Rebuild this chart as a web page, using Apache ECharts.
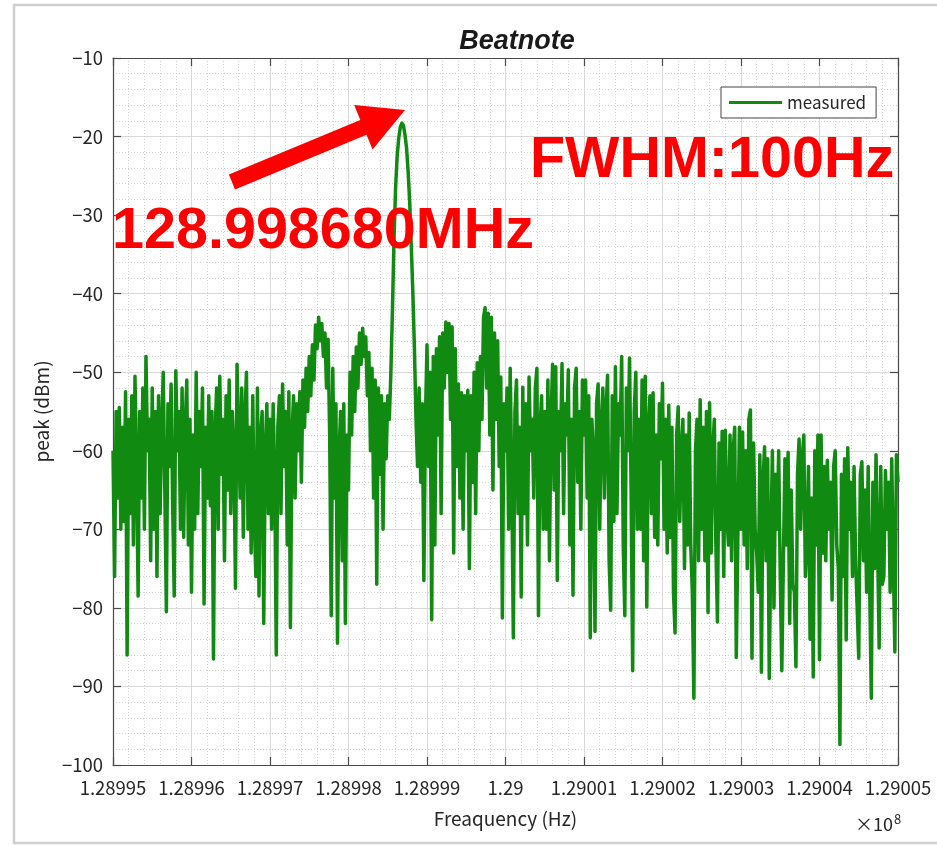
<!DOCTYPE html>
<html>
<head>
<meta charset="utf-8">
<title>Beatnote</title>
<script src="https://cdn.jsdelivr.net/npm/echarts@6/dist/echarts.min.js"></script>
<style>
  html, body { margin: 0; padding: 0; background: #fff; }
  #chart { width: 937px; height: 845px; }
</style>
</head>
<body>
<div id="chart"></div>
<script>
// frequency grid: 20 Hz steps from 128.995 MHz, one array per 1 kHz band
const freqStart = 128995000
const freqEnd = 129005000
const freqStep = 20
const seriesName = 'measured'

const band0 = [-60, -76, -55, -66, -54.5, -70, -57, -69, -52.5, -86, -56, -68, -53, -72, -50.5, -62, -78.5, -55, -66, -52,
  -70, -48, -60, -56, -74, -52, -70, -55, -76, -53, -68, -57, -50, -65, -80.5, -54, -62, -51.5, -67, -78.5,
  -49.8, -60, -55, -70, -52, -71, -57, -51, -72, -56]
const band1 = [-78, -58, -70, -50, -68, -55, -62, -52, -79.5, -57, -66, -53, -67, -55, -86.5, -58, -52, -70, -50.5, -63,
  -56, -74, -53, -65, -51, -68, -55, -60, -77.5, -49, -58, -66, -52, -71, -56, -50, -70, -57, -73, -53,
  -69, -76, -52, -78.5, -58, -55, -82, -60, -54, -68]
const band2 = [-56, -70, -54, -63, -86, -57, -53, -68, -51.5, -62, -55, -72, -52.5, -82.5, -58, -53, -66, -54, -60, -52.5,
  -64, -51, -57, -49.5, -55, -48, -53, -46.5, -51, -44, -47, -43, -46, -43.8, -48, -45, -52, -45.8, -58, -81,
  -49.5, -66, -54, -84.5, -60, -55, -74, -54, -82, -58]
const band3 = [-65, -50, -58, -48, -55, -46.8, -52, -45, -49, -44.4, -48, -45.5, -53, -47.5, -60, -49.5, -66, -51, -77, -52,
  -63, -53, -70, -54, -61, -53, -56, -50, -42, -33, -26.5, -22.5, -20.2, -18.8, -18.3, -18.6, -19.8, -21.5, -24.5, -28.5,
  -34, -40, -47, -56, -62, -52, -64, -54, -76.5, -56]
const band4 = [-46.5, -62, -50, -81.5, -48, -72, -47, -58, -45.5, -68, -45, -52, -43.6, -50, -43.8, -56, -44.2, -73, -47, -62,
  -51.5, -66, -52.6, -70, -53, -60, -52.3, -75, -53, -64, -50, -68, -48.8, -60, -48, -56, -43, -41.8, -52, -42.5,
  -58, -43, -65, -45, -56, -46, -62, -50.6, -81.3, -54]
const band5 = [-60, -52, -70, -49.5, -64, -83.8, -55, -51, -68, -57, -78.6, -51.9, -68, -54, -72, -50.6, -60, -56, -66, -52,
  -49.5, -81, -57, -53, -70, -55, -70, -51, -74, -56, -49, -65, -49.3, -76.5, -55, -60, -48.9, -68, -54, -58,
  -49.7, -72, -56, -78.4, -52, -49.5, -64, -55, -70, -51]
const band6 = [-58, -51, -66, -53, -83.8, -56, -60, -83, -54, -51.5, -70, -57, -52, -66, -55, -50.4, -74, -80.3, -53, -69,
  -49.3, -68, -54, -58, -48, -72, -81, -52, -60, -48.2, -65, -88, -55, -50, -70, -56, -70, -51, -74, -50.5,
  -79.9, -57, -53, -68, -52.6, -71, -58, -72, -54, -61]
const band7 = [-51.4, -70, -56, -73, -54.2, -71, -57, -78, -83.2, -58, -54.4, -69, -60, -56, -75, -58, -72, -55.2, -72, -78,
  -91.5, -60, -56, -74, -53.5, -70, -57, -74, -55, -80.6, -53.9, -73, -60, -56, -72, -81.8, -59, -70, -57.5, -76,
  -57.4, -68, -72, -58, -74, -60, -57, -86.3, -71, -57]
const band8 = [-70, -57.6, -72, -60, -75, -56, -54.8, -86.4, -59, -70, -73, -78, -60.5, -88.2, -64, -59.5, -74, -61, -89, -72,
  -60, -80, -63, -70, -60, -76, -88, -74, -61, -72, -60.2, -82, -65, -77, -78, -87.5, -63, -58.5, -70, -61,
  -58, -76, -71, -62, -84, -66, -88.8, -60, -72, -58]
const band9 = [-86.6, -58, -73, -62, -74, -61.2, -70, -64, -79, -62, -60, -72, -75, -97.4, -63, -76, -61, -84.1, -59.6, -70,
  -64, -76, -62, -74, -80, -86.4, -63, -61.4, -74, -65, -78, -62, -78, -91.5, -64, -75, -60.5, -72, -85.1, -62,
  -77, -76, -62.5, -70, -64, -78, -61, -74, -85.6, -60.5, -64]

const peakDbm = [].concat(band0, band1, band2, band3, band4, band5, band6, band7, band8, band9)

const yMin = -100
const yMax = -10
const yStep = 10
const xTickStep = 1000

const font = '"Noto Sans CJK JP", "Noto Sans", sans-serif'
const textColor = '#262626'
const lineColor = '#118a11'

const chart = echarts.init(document.getElementById('chart'), null, { renderer: 'canvas' })

function freqLabel(v) {
  return String(+(v / 1e8).toFixed(5))
}

function dbLabel(v) {
  return String(v).replace('-', '\u2212')
}

const gridLine = { show: true, lineStyle: { color: '#d9d9d9', width: 1 } }
const minorGridLine = { show: true, lineStyle: { color: '#d2d2d2', width: 1, type: [1, 2] } }
const axisLine = { show: true, lineStyle: { color: '#4a4a4a', width: 1.2 } }
const innerTick = { show: true, inside: true, length: 8, lineStyle: { color: '#4a4a4a', width: 1.2 } }

chart.setOption({
  animation: false,
  backgroundColor: '#fff',
  title: {
    text: 'Beatnote',
    left: 512,
    top: 23,
    textAlign: 'center',
    textStyle: {
      fontFamily: '"Liberation Sans", sans-serif',
      fontStyle: 'italic',
      fontWeight: 'bold',
      fontSize: 27,
      color: '#1a1a1a'
    }
  },
  legend: {
    data: [seriesName],
    left: 721,
    top: 87,
    padding: [7, 10, 7, 8],
    backgroundColor: '#fff',
    borderColor: '#444',
    borderWidth: 1,
    icon: 'rect',
    itemWidth: 53,
    itemHeight: 3,
    textStyle: { fontFamily: font, fontSize: 17, color: textColor }
  },
  grid: { left: 113, right: 39, top: 58, bottom: 80 },
  xAxis: [
    {
      type: 'value',
      position: 'bottom',
      min: freqStart,
      max: freqEnd,
      interval: xTickStep,
      name: 'Freaquency (Hz)',
      nameLocation: 'middle',
      nameGap: 44,
      nameTextStyle: { fontFamily: font, fontSize: 19, color: textColor },
      axisLine,
      axisTick: innerTick,
      axisLabel: { formatter: freqLabel, fontFamily: font, fontSize: 18.5, color: textColor, margin: 14 },
      splitLine: gridLine,
      minorSplitLine: minorGridLine
    },
    {
      type: 'value',
      position: 'top',
      min: freqStart,
      max: freqEnd,
      interval: xTickStep,
      axisLine,
      axisTick: innerTick,
      axisLabel: { show: false },
      splitLine: { show: false }
    }
  ],
  yAxis: [
    {
      type: 'value',
      position: 'left',
      min: yMin,
      max: yMax,
      interval: yStep,
      name: 'peak (dBm)',
      nameLocation: 'middle',
      nameGap: 58,
      nameTextStyle: { fontFamily: font, fontSize: 19, color: textColor },
      axisLine,
      axisTick: innerTick,
      axisLabel: { formatter: dbLabel, fontFamily: font, fontSize: 18.5, color: textColor, margin: 10 },
      splitLine: gridLine,
      minorSplitLine: minorGridLine
    },
    {
      type: 'value',
      position: 'right',
      min: yMin,
      max: yMax,
      interval: yStep,
      axisLine,
      axisTick: innerTick,
      axisLabel: { show: false },
      splitLine: { show: false }
    }
  ],
  graphic: [
    {
      type: 'rect',
      shape: { x: 14, y: 5, width: 940, height: 838 },
      style: { fill: 'none', stroke: '#cfcfcf', lineWidth: 2.5 },
      silent: true
    },
    {
      type: 'text',
      x: 855,
      y: 813,
      style: {
        text: '×10{sup|8}',
        fontFamily: font,
        fontSize: 18,
        fill: textColor,
        rich: { sup: { fontSize: 13, fontFamily: font, verticalAlign: 'top', padding: [0, 0, 10, 1] } }
      }
    },
    {
      type: 'polygon',
      shape: {
        points: [[228.9, 174.6], [360.3, 119.9], [354.2, 105.1], [405, 110], [372.6, 149.5], [366.5, 134.7], [235, 189.4]]
      },
      style: { fill: '#ff0000' },
      z: 100
    },
    {
      type: 'text',
      x: 112,
      y: 232,
      z: 100,
      style: {
        text: '128.998680MHz',
        fontFamily: '"Liberation Sans", sans-serif',
        fontWeight: 'bold',
        fontSize: 57.5,
        fill: '#ff0000',
        verticalAlign: 'middle'
      }
    },
    {
      type: 'text',
      x: 530,
      y: 161,
      z: 100,
      style: {
        text: 'FWHM:100Hz',
        fontFamily: '"Liberation Sans", sans-serif',
        fontWeight: 'bold',
        fontSize: 57.5,
        fill: '#ff0000',
        verticalAlign: 'middle'
      }
    }
  ],
  series: [
    {
      name: seriesName,
      type: 'line',
      xAxisIndex: 0,
      yAxisIndex: 0,
      showSymbol: false,
      symbol: 'none',
      sampling: null,
      color: lineColor,
      lineStyle: { color: lineColor, width: 3.5, join: 'round' },
      data: peakDbm.map((v, i) => [freqStart + i * freqStep, v])
    }
  ]
})
</script>
</body>
</html>
